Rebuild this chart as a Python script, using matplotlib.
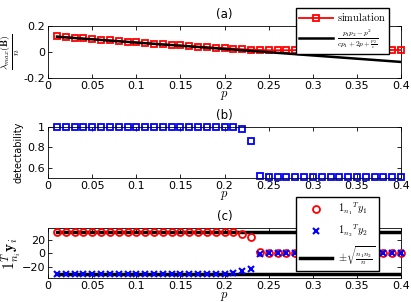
import numpy as np
import matplotlib
matplotlib.use("Agg")
import matplotlib.pyplot as plt

plt.rcParams['font.family'] = 'DejaVu Sans'
plt.rcParams['mathtext.fontset'] = 'cm'
plt.rcParams['font.size'] = 8

p = [0.01, 0.02, 0.03, 0.04, 0.05, 0.06, 0.07, 0.08, 0.09, 0.10,
     0.11, 0.12, 0.13, 0.14, 0.15, 0.16, 0.17, 0.18, 0.19, 0.20,
     0.21, 0.22, 0.23, 0.24, 0.25, 0.26, 0.27, 0.28, 0.29, 0.30,
     0.31, 0.32, 0.33, 0.34, 0.35, 0.36, 0.37, 0.38, 0.39, 0.40]

# (a) lambda_max(B)/n
sim_a = [0.120, 0.114, 0.109, 0.104, 0.099, 0.094, 0.089, 0.084, 0.079, 0.074,
         0.069, 0.064, 0.059, 0.054, 0.050, 0.045, 0.041, 0.037, 0.033, 0.029,
         0.025, 0.021, 0.018, 0.015, 0.013, 0.013, 0.013, 0.014, 0.014, 0.014,
         0.014, 0.014, 0.015, 0.015, 0.015, 0.015, 0.015, 0.015, 0.015, 0.015]
theory_a = [0.117, 0.112, 0.107, 0.102, 0.097, 0.092, 0.087, 0.082, 0.077, 0.072,
            0.067, 0.062, 0.057, 0.053, 0.048, 0.043, 0.038, 0.033, 0.028, 0.023,
            0.018, 0.013, 0.008, 0.003, -0.002, -0.007, -0.012, -0.017, -0.022, -0.027,
            -0.032, -0.037, -0.042, -0.047, -0.052, -0.057, -0.062, -0.067, -0.072, -0.077]

# (b) detectability
detect = [1.0] * 21 + [0.98, 0.86, 0.52] + [0.505] * 16

# (c) 1^T y_i
y1 = [31.5] * 20 + [31.0, 28.0, 23.0, 1.5] + [0.3] * 16
y2 = [-31.5] * 19 + [-31.0, -29.5, -27.0, -23.0, -1.0] + [-0.3] * 16
bound = 31.62

fig = plt.figure(figsize=(4.11, 3.02), dpi=100)
ax_a = fig.add_axes([0.117, 0.742, 0.859, 0.172])
ax_b = fig.add_axes([0.117, 0.411, 0.859, 0.168])
ax_c = fig.add_axes([0.117, 0.079, 0.859, 0.166])

xt = [0, 0.05, 0.1, 0.15, 0.2, 0.25, 0.3, 0.35, 0.4]
xtl = ['0', '0.05', '0.1', '0.15', '0.2', '0.25', '0.3', '0.35', '0.4']

# panel (a)
ax_a.plot(p, sim_a, color='red', lw=1.3, marker='s', ms=4.5, mfc='none',
          mew=1.3, label=r'$\mathrm{simulation}$', clip_on=False, zorder=3)
ax_a.plot(p, theory_a, color='black', lw=1.8,
          label=r'$\frac{p_1p_2-p^2}{cp_1+2p+\frac{p_2}{c}}$', zorder=4)
ax_a.set_ylim(-0.2, 0.2)
ax_a.set_yticks([-0.2, 0, 0.2])
ax_a.set_yticklabels(['-0.2', '0', '0.2'])
ax_a.set_ylabel(r'$\frac{\lambda_{max}(\mathbf{B})}{n}$', fontsize=10, labelpad=1)
ax_a.set_title('(a)', fontsize=8.5, pad=6)
fig.legend(*ax_a.get_legend_handles_labels(), loc='upper left',
           bbox_to_anchor=(0.708, 0.99), fontsize=7.5, frameon=True, fancybox=False,
           edgecolor='black', framealpha=1, handlelength=3.2, borderpad=0.3,
           labelspacing=0.4, handletextpad=0.4)

# panel (b)
ax_b.plot(p, detect, ls='none', marker='s', ms=4, mfc='none', mec='blue',
          mew=1.3, clip_on=False)
ax_b.set_ylim(0.5, 1.0)
ax_b.set_yticks([0.6, 0.8, 1.0])
ax_b.set_yticklabels(['0.6', '0.8', '1'])
ax_b.set_ylabel('detectability', fontsize=7, labelpad=3)
ax_b.set_title('(b)', fontsize=8.5, pad=6)

# panel (c)
ax_c.plot(p, y1, ls='none', marker='o', ms=5, mfc='none', mec='red', mew=1.3,
          label=r'$\mathbf{1}_{n_1}{}^T y_1$', clip_on=False, zorder=3)
ax_c.plot(p, y2, ls='none', marker='x', ms=4.5, mec='blue', mew=1.5,
          label=r'$\mathbf{1}_{n_2}{}^T y_2$', clip_on=False, zorder=3)
ax_c.plot([p[0], p[-1]], [bound, bound], color='black', lw=2.5,
          label=r'$\pm\sqrt{\frac{n_1n_2}{n}}$', zorder=2)
ax_c.plot([p[0], p[-1]], [-bound, -bound], color='black', lw=2.5, zorder=2)
ax_c.set_ylim(-37, 37)
ax_c.set_yticks([-20, 0, 20])
ax_c.set_ylabel(r'$\mathbf{1}^T_{n_i}\mathbf{y}_i$', fontsize=11, labelpad=-1)
ax_c.set_title('(c)', fontsize=8.5, pad=6)
fig.legend(*ax_c.get_legend_handles_labels(), loc='upper left',
           bbox_to_anchor=(0.708, 0.366), fontsize=7.5, frameon=True, fancybox=False,
           edgecolor='black', framealpha=1, handlelength=3.0, borderpad=0.4,
           labelspacing=0.5, handletextpad=0.6)

for ax in (ax_a, ax_b, ax_c):
    ax.set_xlim(0, 0.4)
    ax.set_xticks(xt)
    ax.set_xticklabels(xtl)
    ax.set_xlabel(r'$p$', fontsize=9, labelpad=-1)
    ax.tick_params(direction='in', length=3, width=0.6, pad=2, top=True, right=True)
    for s in ax.spines.values():
        s.set_linewidth(0.6)

fig.savefig('out.png', dpi=100)
